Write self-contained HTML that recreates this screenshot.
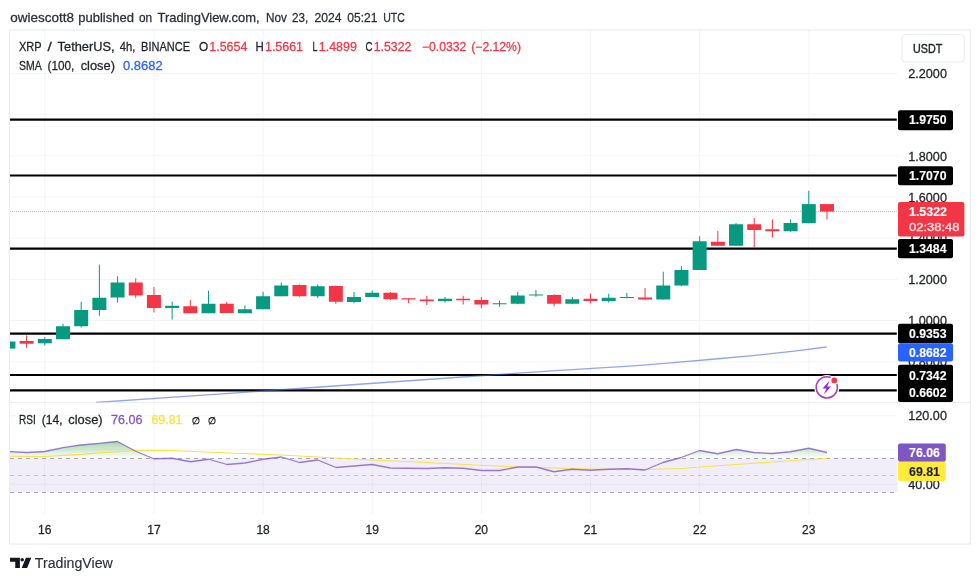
<!DOCTYPE html>
<html><head><meta charset="utf-8"><title>XRP / TetherUS chart</title>
<style>
html,body{margin:0;padding:0;background:#fff;}
body{width:980px;height:583px;overflow:hidden;font-family:"Liberation Sans",sans-serif;}
svg{display:block;position:absolute;left:0;top:0;}
svg text{font-family:"Liberation Sans",sans-serif;paint-order:stroke fill;}
svg{filter:blur(0.4px);}
</style></head><body>
<svg width="980" height="583" viewBox="0 0 980 583">
<defs>
<linearGradient id="obg" gradientUnits="userSpaceOnUse" x1="0" y1="433" x2="0" y2="458.5"><stop offset="0" stop-color="#4caf50" stop-opacity="0.75"/><stop offset="1" stop-color="#4caf50" stop-opacity="0"/></linearGradient>
<clipPath id="cpMain"><rect x="10" y="30" width="887.5" height="372.5"/></clipPath>
<clipPath id="cpOB"><rect x="10" y="403" width="887.5" height="55.5"/></clipPath>
</defs>
<rect x="0" y="0" width="980" height="583" fill="#fff"/>
<g stroke="#f3f4f8" stroke-width="1">
<line x1="44.80" y1="30" x2="44.80" y2="514"/>
<line x1="153.94" y1="30" x2="153.94" y2="514"/>
<line x1="263.08" y1="30" x2="263.08" y2="514"/>
<line x1="372.22" y1="30" x2="372.22" y2="514"/>
<line x1="481.36" y1="30" x2="481.36" y2="514"/>
<line x1="590.50" y1="30" x2="590.50" y2="514"/>
<line x1="699.64" y1="30" x2="699.64" y2="514"/>
<line x1="808.78" y1="30" x2="808.78" y2="514"/>
<line x1="10" y1="73.6" x2="897.5" y2="73.6"/>
<line x1="10" y1="114.7" x2="897.5" y2="114.7"/>
<line x1="10" y1="155.8" x2="897.5" y2="155.8"/>
<line x1="10" y1="197" x2="897.5" y2="197"/>
<line x1="10" y1="238.2" x2="897.5" y2="238.2"/>
<line x1="10" y1="279.4" x2="897.5" y2="279.4"/>
<line x1="10" y1="320.5" x2="897.5" y2="320.5"/>
<line x1="10" y1="361.7" x2="897.5" y2="361.7"/>
<line x1="10" y1="415.8" x2="897.5" y2="415.8"/>
<line x1="10" y1="449.9" x2="897.5" y2="449.9"/>
<line x1="10" y1="484.2" x2="897.5" y2="484.2"/>
</g>
<rect x="9.6" y="30.0" width="960.8" height="514.0" fill="none" stroke="#e9eaee" stroke-width="1"/>
<line x1="9.6" y1="402.5" x2="970.4" y2="402.5" stroke="#eeeff3" stroke-width="1"/>
<rect x="10" y="458.5" width="887.5" height="34" fill="#7e57c2" fill-opacity="0.1"/>
<polygon points="10.00,458.50 10.00,451.60 27.00,452.50 45.00,451.50 63.00,447.70 81.00,445.00 99.00,443.40 117.50,441.50 135.75,451.25 153.75,458.75 172.00,458.25 190.50,461.75 208.75,459.25 227.00,464.50 245.00,463.00 263.00,459.25 281.25,457.00 299.50,462.50 317.75,460.00 336.00,467.50 354.00,466.00 372.25,464.50 390.50,468.00 408.50,468.25 427.00,468.50 445.00,467.75 463.00,468.25 481.50,470.50 499.50,470.50 518.00,467.00 536.00,467.00 554.00,471.75 572.00,469.25 590.25,470.25 608.75,469.25 627.00,468.75 645.00,470.00 663.00,462.50 681.25,457.50 699.50,450.50 717.75,453.75 736.25,449.50 753.75,452.50 772.25,453.50 790.50,451.75 808.75,448.25 827.00,452.50 827.00,458.50" fill="url(#obg)" clip-path="url(#cpOB)"/>
<g stroke="#787b86" stroke-width="1" stroke-dasharray="4 4" stroke-opacity="0.65">
<line x1="10" y1="458.5" x2="897.5" y2="458.5"/>
<line x1="10" y1="475.5" x2="897.5" y2="475.5" stroke-opacity="0.4"/>
<line x1="10" y1="492.5" x2="897.5" y2="492.5"/>
</g>
<polyline points="10.00,456.30 45.00,456.50 63.00,455.40 81.00,454.40 99.00,452.90 117.50,451.80 135.75,450.50 170.00,450.50 230.00,453.00 281.00,455.00 336.00,458.00 372.00,460.00 427.00,462.50 475.00,465.00 518.00,467.00 590.00,469.00 645.00,469.50 681.00,468.50 700.00,467.00 736.00,464.50 772.00,462.00 808.00,459.50 827.00,458.50" fill="none" stroke="#fbe04a" stroke-width="1.1" stroke-linejoin="round"/>
<polyline points="10.00,451.60 27.00,452.50 45.00,451.50 63.00,447.70 81.00,445.00 99.00,443.40 117.50,441.50 135.75,451.25 153.75,458.75 172.00,458.25 190.50,461.75 208.75,459.25 227.00,464.50 245.00,463.00 263.00,459.25 281.25,457.00 299.50,462.50 317.75,460.00 336.00,467.50 354.00,466.00 372.25,464.50 390.50,468.00 408.50,468.25 427.00,468.50 445.00,467.75 463.00,468.25 481.50,470.50 499.50,470.50 518.00,467.00 536.00,467.00 554.00,471.75 572.00,469.25 590.25,470.25 608.75,469.25 627.00,468.75 645.00,470.00 663.00,462.50 681.25,457.50 699.50,450.50 717.75,453.75 736.25,449.50 753.75,452.50 772.25,453.50 790.50,451.75 808.75,448.25 827.00,452.50" fill="none" stroke="#7e57c2" stroke-width="1.3" stroke-opacity="0.78" stroke-linejoin="round"/>
<g clip-path="url(#cpMain)">
<line x1="10" y1="211.5" x2="897.5" y2="211.5" stroke="#f23645" stroke-width="1" stroke-dasharray="1 1" stroke-opacity="0.45"/>
<line x1="10" y1="119.7" x2="896.8" y2="119.7" stroke="#000" stroke-width="2.2"/>
<line x1="10" y1="175.5" x2="896.8" y2="175.5" stroke="#000" stroke-width="2.2"/>
<line x1="10" y1="248.7" x2="896.8" y2="248.7" stroke="#000" stroke-width="2.2"/>
<line x1="10" y1="333.6" x2="896.8" y2="333.6" stroke="#000" stroke-width="2.2"/>
<line x1="10" y1="375" x2="896.8" y2="375" stroke="#000" stroke-width="2.2"/>
<line x1="10" y1="390.4" x2="896.8" y2="390.4" stroke="#000" stroke-width="2.2"/>
<polyline points="96.00,402.50 270.00,390.50 470.00,376.50 510.80,373.70 551.60,370.80 592.40,368.40 633.30,365.90 674.00,362.70 715.00,359.00 755.70,355.30 796.50,350.80 826.50,347.00" fill="none" stroke="#3f66dc" stroke-width="1.3" stroke-opacity="0.58" stroke-linejoin="round"/>
<rect x="7.92" y="341.50" width="1" height="7.10" fill="#089981"/>
<rect x="1.42" y="341.50" width="14" height="7.10" fill="#089981"/>
<rect x="26.11" y="335.40" width="1" height="12.40" fill="#f23645"/>
<rect x="19.61" y="341.00" width="14" height="2.70" fill="#f23645"/>
<rect x="44.30" y="337.20" width="1" height="8.30" fill="#089981"/>
<rect x="37.80" y="339.00" width="14" height="4.30" fill="#089981"/>
<rect x="62.49" y="323.75" width="1" height="15.50" fill="#089981"/>
<rect x="55.99" y="326.25" width="14" height="13.00" fill="#089981"/>
<rect x="80.68" y="301.75" width="1" height="25.75" fill="#089981"/>
<rect x="74.18" y="310.00" width="14" height="16.25" fill="#089981"/>
<rect x="98.87" y="264.50" width="1" height="51.25" fill="#089981"/>
<rect x="92.37" y="297.75" width="14" height="12.25" fill="#089981"/>
<rect x="117.06" y="276.25" width="1" height="26.25" fill="#089981"/>
<rect x="110.56" y="282.50" width="14" height="15.00" fill="#089981"/>
<rect x="135.25" y="278.25" width="1" height="20.00" fill="#f23645"/>
<rect x="128.75" y="282.50" width="14" height="13.00" fill="#f23645"/>
<rect x="153.44" y="287.00" width="1" height="25.50" fill="#f23645"/>
<rect x="146.94" y="295.00" width="14" height="13.00" fill="#f23645"/>
<rect x="171.63" y="301.50" width="1" height="18.00" fill="#089981"/>
<rect x="165.13" y="305.75" width="14" height="2.25" fill="#089981"/>
<rect x="189.82" y="300.00" width="1" height="13.25" fill="#f23645"/>
<rect x="183.32" y="306.25" width="14" height="7.00" fill="#f23645"/>
<rect x="208.01" y="290.75" width="1" height="22.50" fill="#089981"/>
<rect x="201.51" y="303.75" width="14" height="9.50" fill="#089981"/>
<rect x="226.20" y="302.00" width="1" height="11.00" fill="#f23645"/>
<rect x="219.70" y="303.75" width="14" height="9.25" fill="#f23645"/>
<rect x="244.39" y="305.50" width="1" height="7.75" fill="#089981"/>
<rect x="237.89" y="309.25" width="14" height="4.00" fill="#089981"/>
<rect x="262.58" y="291.75" width="1" height="17.50" fill="#089981"/>
<rect x="256.08" y="296.25" width="14" height="13.00" fill="#089981"/>
<rect x="280.77" y="282.50" width="1" height="13.75" fill="#089981"/>
<rect x="274.27" y="285.50" width="14" height="10.75" fill="#089981"/>
<rect x="298.96" y="284.50" width="1" height="12.25" fill="#f23645"/>
<rect x="292.46" y="285.00" width="14" height="11.25" fill="#f23645"/>
<rect x="317.15" y="284.50" width="1" height="13.50" fill="#089981"/>
<rect x="310.65" y="286.25" width="14" height="10.00" fill="#089981"/>
<rect x="335.34" y="285.50" width="1" height="18.25" fill="#f23645"/>
<rect x="328.84" y="286.00" width="14" height="15.75" fill="#f23645"/>
<rect x="353.53" y="292.00" width="1" height="11.25" fill="#089981"/>
<rect x="347.03" y="297.00" width="14" height="5.00" fill="#089981"/>
<rect x="371.72" y="290.50" width="1" height="6.50" fill="#089981"/>
<rect x="365.22" y="292.75" width="14" height="4.25" fill="#089981"/>
<rect x="389.91" y="292.00" width="1" height="8.00" fill="#f23645"/>
<rect x="383.41" y="292.75" width="14" height="6.50" fill="#f23645"/>
<rect x="408.10" y="298.25" width="1" height="4.75" fill="#f23645"/>
<rect x="401.60" y="298.25" width="14" height="1.25" fill="#f23645"/>
<rect x="426.29" y="295.75" width="1" height="9.25" fill="#f23645"/>
<rect x="419.79" y="299.50" width="14" height="1.75" fill="#f23645"/>
<rect x="444.48" y="297.00" width="1" height="5.50" fill="#089981"/>
<rect x="437.98" y="298.75" width="14" height="2.25" fill="#089981"/>
<rect x="462.67" y="295.75" width="1" height="8.75" fill="#f23645"/>
<rect x="456.17" y="298.75" width="14" height="1.50" fill="#f23645"/>
<rect x="480.86" y="297.00" width="1" height="11.25" fill="#f23645"/>
<rect x="474.36" y="300.00" width="14" height="4.50" fill="#f23645"/>
<rect x="499.05" y="300.50" width="1" height="6.25" fill="#089981"/>
<rect x="492.55" y="303.25" width="14" height="1.00" fill="#089981"/>
<rect x="517.24" y="292.00" width="1" height="12.25" fill="#089981"/>
<rect x="510.74" y="295.50" width="14" height="8.25" fill="#089981"/>
<rect x="535.43" y="290.00" width="1" height="6.75" fill="#089981"/>
<rect x="528.93" y="294.50" width="14" height="1.00" fill="#089981"/>
<rect x="553.62" y="294.25" width="1" height="12.00" fill="#f23645"/>
<rect x="547.12" y="295.00" width="14" height="8.75" fill="#f23645"/>
<rect x="571.81" y="297.00" width="1" height="7.25" fill="#089981"/>
<rect x="565.31" y="299.25" width="14" height="4.50" fill="#089981"/>
<rect x="590.00" y="293.75" width="1" height="9.50" fill="#f23645"/>
<rect x="583.50" y="298.75" width="14" height="2.25" fill="#f23645"/>
<rect x="608.19" y="293.75" width="1" height="8.75" fill="#089981"/>
<rect x="601.69" y="297.75" width="14" height="3.25" fill="#089981"/>
<rect x="626.38" y="293.00" width="1" height="5.50" fill="#089981"/>
<rect x="619.88" y="297.00" width="14" height="1.00" fill="#089981"/>
<rect x="644.57" y="288.00" width="1" height="11.50" fill="#f23645"/>
<rect x="638.07" y="297.50" width="14" height="2.00" fill="#f23645"/>
<rect x="662.76" y="271.75" width="1" height="27.75" fill="#089981"/>
<rect x="656.26" y="285.50" width="14" height="14.00" fill="#089981"/>
<rect x="680.95" y="266.25" width="1" height="20.00" fill="#089981"/>
<rect x="674.45" y="270.00" width="14" height="15.50" fill="#089981"/>
<rect x="699.14" y="236.25" width="1" height="33.75" fill="#089981"/>
<rect x="692.64" y="241.25" width="14" height="28.75" fill="#089981"/>
<rect x="717.33" y="230.75" width="1" height="15.00" fill="#f23645"/>
<rect x="710.83" y="241.75" width="14" height="4.00" fill="#f23645"/>
<rect x="735.52" y="223.00" width="1" height="22.75" fill="#089981"/>
<rect x="729.02" y="224.25" width="14" height="21.50" fill="#089981"/>
<rect x="753.71" y="218.00" width="1" height="30.00" fill="#f23645"/>
<rect x="747.21" y="224.25" width="14" height="5.75" fill="#f23645"/>
<rect x="771.90" y="219.50" width="1" height="18.00" fill="#f23645"/>
<rect x="765.40" y="229.25" width="14" height="2.00" fill="#f23645"/>
<rect x="790.09" y="219.50" width="1" height="12.25" fill="#089981"/>
<rect x="783.59" y="223.00" width="14" height="8.25" fill="#089981"/>
<rect x="808.28" y="190.75" width="1" height="32.45" fill="#089981"/>
<rect x="801.78" y="204.10" width="14" height="19.10" fill="#089981"/>
<rect x="826.47" y="204.10" width="1" height="15.40" fill="#f23645"/>
<rect x="819.97" y="204.10" width="14" height="7.50" fill="#f23645"/>
</g>
<g>
<circle cx="826.8" cy="387.4" r="12.5" fill="#fff"/>
<circle cx="826.8" cy="387.4" r="10.6" fill="#fff" stroke="#ab47bc" stroke-width="1.6"/>
<path d="M829.6 380.6 L822.6 388.6 L826.4 388.6 L823.8 394.6 L831 386.4 L827.2 386.4 Z" fill="#a020f0"/>
<circle cx="834.3" cy="380.4" r="4.4" fill="#fff"/>
<circle cx="834.3" cy="380.4" r="2.9" fill="#f23645"/>
</g>
<text x="908.3" y="78.4" font-size="12" fill="#1e222c" stroke="#1e222c" stroke-width="0.27" font-weight="normal" text-anchor="start" textLength="38.6" lengthAdjust="spacingAndGlyphs">2.2000</text>
<text x="908.3" y="161.0" font-size="12" fill="#1e222c" stroke="#1e222c" stroke-width="0.27" font-weight="normal" text-anchor="start" textLength="38.6" lengthAdjust="spacingAndGlyphs">1.8000</text>
<text x="908.3" y="201.70000000000002" font-size="12" fill="#1e222c" stroke="#1e222c" stroke-width="0.27" font-weight="normal" text-anchor="start" textLength="38.6" lengthAdjust="spacingAndGlyphs">1.6000</text>
<text x="908.3" y="242.4" font-size="12" fill="#1e222c" stroke="#1e222c" stroke-width="0.27" font-weight="normal" text-anchor="start" textLength="38.6" lengthAdjust="spacingAndGlyphs">1.4000</text>
<text x="908.3" y="284.2" font-size="12" fill="#1e222c" stroke="#1e222c" stroke-width="0.27" font-weight="normal" text-anchor="start" textLength="38.6" lengthAdjust="spacingAndGlyphs">1.2000</text>
<text x="908.3" y="324.9" font-size="12" fill="#1e222c" stroke="#1e222c" stroke-width="0.27" font-weight="normal" text-anchor="start" textLength="38.6" lengthAdjust="spacingAndGlyphs">1.0000</text>
<text x="908.3" y="365.9" font-size="12" fill="#1e222c" stroke="#1e222c" stroke-width="0.27" font-weight="normal" text-anchor="start" textLength="38.6" lengthAdjust="spacingAndGlyphs">0.8000</text>
<text x="908.3" y="420.4" font-size="12" fill="#1e222c" stroke="#1e222c" stroke-width="0.27" font-weight="normal" text-anchor="start" textLength="38.6" lengthAdjust="spacingAndGlyphs">120.00</text>
<text x="908.3" y="488.9" font-size="12" fill="#1e222c" stroke="#1e222c" stroke-width="0.27" font-weight="normal" text-anchor="start" textLength="31.5" lengthAdjust="spacingAndGlyphs">40.00</text>
<rect x="898" y="110.2" width="55" height="20.10000000000001" rx="2" ry="2" fill="#000"/>
<text x="909.0" y="124.4" font-size="12" fill="#fff" stroke="#fff" stroke-width="0.12" font-weight="bold" text-anchor="start" textLength="37.5" lengthAdjust="spacingAndGlyphs">1.9750</text>
<rect x="898" y="166.3" width="55" height="19.0" rx="2" ry="2" fill="#000"/>
<text x="909.0" y="180.2" font-size="12" fill="#fff" stroke="#fff" stroke-width="0.12" font-weight="bold" text-anchor="start" textLength="37.5" lengthAdjust="spacingAndGlyphs">1.7070</text>
<rect x="898" y="239" width="55" height="19.30000000000001" rx="2" ry="2" fill="#000"/>
<text x="909.0" y="253" font-size="12" fill="#fff" stroke="#fff" stroke-width="0.12" font-weight="bold" text-anchor="start" textLength="37.5" lengthAdjust="spacingAndGlyphs">1.3484</text>
<rect x="898" y="202" width="66.39999999999998" height="34.599999999999994" rx="2" ry="2" fill="#f23645"/>
<text x="909.0" y="216.2" font-size="12" fill="#fff" stroke="#fff" stroke-width="0.12" font-weight="bold" text-anchor="start" textLength="38" lengthAdjust="spacingAndGlyphs">1.5322</text>
<text x="909.0" y="230.9" font-size="11" fill="#fff" stroke="#fff" stroke-width="0.4" font-weight="normal" text-anchor="start" textLength="50.5" lengthAdjust="spacingAndGlyphs" opacity="0.82">02:38:48</text>
<rect x="898" y="323.7" width="55" height="19.600000000000023" rx="2" ry="2" fill="#000"/>
<text x="909.0" y="337.7" font-size="12" fill="#fff" stroke="#fff" stroke-width="0.12" font-weight="bold" text-anchor="start" textLength="37.5" lengthAdjust="spacingAndGlyphs">0.9353</text>
<rect x="898" y="364.8" width="55" height="37.19999999999999" rx="2" ry="2" fill="#000"/>
<text x="909.0" y="379.5" font-size="12" fill="#fff" stroke="#fff" stroke-width="0.12" font-weight="bold" text-anchor="start" textLength="37.5" lengthAdjust="spacingAndGlyphs">0.7342</text>
<text x="909.0" y="397.2" font-size="12" fill="#fff" stroke="#fff" stroke-width="0.12" font-weight="bold" text-anchor="start" textLength="37.5" lengthAdjust="spacingAndGlyphs">0.6602</text>
<rect x="898" y="343.2" width="55" height="18.19999999999999" rx="2" ry="2" fill="#2962ff"/>
<text x="909.0" y="356.7" font-size="12" fill="#fff" stroke="#fff" stroke-width="0.12" font-weight="bold" text-anchor="start" textLength="37.5" lengthAdjust="spacingAndGlyphs">0.8682</text>
<rect x="898" y="443.4" width="47.799999999999955" height="18.400000000000034" rx="2" ry="2" fill="#7e57c2"/>
<text x="909.0" y="457" font-size="12" fill="#fff" stroke="#fff" stroke-width="0.12" font-weight="bold" text-anchor="start" textLength="31" lengthAdjust="spacingAndGlyphs">76.06</text>
<rect x="898" y="461.7" width="47.799999999999955" height="19.30000000000001" rx="2" ry="2" fill="#ffeb3b"/>
<text x="909.0" y="475.5" font-size="12" fill="#1e222c" stroke="#1e222c" stroke-width="0.12" font-weight="bold" text-anchor="start" textLength="31" lengthAdjust="spacingAndGlyphs">69.81</text>
<rect x="901.9" y="34.4" width="62.5" height="27.7" rx="4" ry="4" fill="#fff" stroke="#e9eaee" stroke-width="1"/>
<text x="913" y="52.6" font-size="12" fill="#1e222c" stroke="#1e222c" stroke-width="0.4" font-weight="normal" text-anchor="start" textLength="29.2" lengthAdjust="spacingAndGlyphs">USDT</text>
<text x="44.80" y="533.8" font-size="12" fill="#1e222c" stroke="#1e222c" stroke-width="0.27" font-weight="normal" text-anchor="middle">16</text>
<text x="153.94" y="533.8" font-size="12" fill="#1e222c" stroke="#1e222c" stroke-width="0.27" font-weight="normal" text-anchor="middle">17</text>
<text x="263.08" y="533.8" font-size="12" fill="#1e222c" stroke="#1e222c" stroke-width="0.27" font-weight="normal" text-anchor="middle">18</text>
<text x="372.22" y="533.8" font-size="12" fill="#1e222c" stroke="#1e222c" stroke-width="0.27" font-weight="normal" text-anchor="middle">19</text>
<text x="481.36" y="533.8" font-size="12" fill="#1e222c" stroke="#1e222c" stroke-width="0.27" font-weight="normal" text-anchor="middle">20</text>
<text x="590.50" y="533.8" font-size="12" fill="#1e222c" stroke="#1e222c" stroke-width="0.27" font-weight="normal" text-anchor="middle">21</text>
<text x="699.64" y="533.8" font-size="12" fill="#1e222c" stroke="#1e222c" stroke-width="0.27" font-weight="normal" text-anchor="middle">22</text>
<text x="808.78" y="533.8" font-size="12" fill="#1e222c" stroke="#1e222c" stroke-width="0.27" font-weight="normal" text-anchor="middle">23</text>
<text x="19" y="51.3" font-size="12" fill="#1e222c" stroke="#1e222c" stroke-width="0.27" font-weight="normal" text-anchor="start" textLength="22.7" lengthAdjust="spacingAndGlyphs">XRP</text>
<text x="47.5" y="51.3" font-size="12" fill="#1e222c" stroke="#1e222c" stroke-width="0.27" font-weight="normal" text-anchor="start" textLength="4.3" lengthAdjust="spacingAndGlyphs">/</text>
<text x="57.6" y="51.3" font-size="12" fill="#1e222c" stroke="#1e222c" stroke-width="0.27" font-weight="normal" text-anchor="start" textLength="57.0" lengthAdjust="spacingAndGlyphs">TetherUS,</text>
<text x="119.7" y="51.3" font-size="12" fill="#1e222c" stroke="#1e222c" stroke-width="0.27" font-weight="normal" text-anchor="start" textLength="15.6" lengthAdjust="spacingAndGlyphs">4h,</text>
<text x="141.1" y="51.3" font-size="12" fill="#1e222c" stroke="#1e222c" stroke-width="0.27" font-weight="normal" text-anchor="start" textLength="48.9" lengthAdjust="spacingAndGlyphs">BINANCE</text>
<text x="199" y="51.3" font-size="12" fill="#1e222c" stroke="#1e222c" stroke-width="0.27" font-weight="normal" text-anchor="start" textLength="9.2" lengthAdjust="spacingAndGlyphs">O</text>
<text x="209.3" y="51.3" font-size="12" fill="#f23645" stroke="#f23645" stroke-width="0.27" font-weight="normal" text-anchor="start" textLength="38.0" lengthAdjust="spacingAndGlyphs">1.5654</text>
<text x="255.5" y="51.3" font-size="12" fill="#1e222c" stroke="#1e222c" stroke-width="0.27" font-weight="normal" text-anchor="start" textLength="8.3" lengthAdjust="spacingAndGlyphs">H</text>
<text x="265" y="51.3" font-size="12" fill="#f23645" stroke="#f23645" stroke-width="0.27" font-weight="normal" text-anchor="start" textLength="38" lengthAdjust="spacingAndGlyphs">1.5661</text>
<text x="312.5" y="51.3" font-size="12" fill="#1e222c" stroke="#1e222c" stroke-width="0.27" font-weight="normal" text-anchor="start" textLength="5.0" lengthAdjust="spacingAndGlyphs">L</text>
<text x="318.8" y="51.3" font-size="12" fill="#f23645" stroke="#f23645" stroke-width="0.27" font-weight="normal" text-anchor="start" textLength="38.0" lengthAdjust="spacingAndGlyphs">1.4899</text>
<text x="365.5" y="51.3" font-size="12" fill="#1e222c" stroke="#1e222c" stroke-width="0.27" font-weight="normal" text-anchor="start" textLength="7.0" lengthAdjust="spacingAndGlyphs">C</text>
<text x="373.8" y="51.3" font-size="12" fill="#f23645" stroke="#f23645" stroke-width="0.27" font-weight="normal" text-anchor="start" textLength="37.5" lengthAdjust="spacingAndGlyphs">1.5322</text>
<text x="422" y="51.3" font-size="12" fill="#f23645" stroke="#f23645" stroke-width="0.27" font-weight="normal" text-anchor="start" textLength="44.3" lengthAdjust="spacingAndGlyphs">−0.0332</text>
<text x="471.3" y="51.3" font-size="12" fill="#f23645" stroke="#f23645" stroke-width="0.27" font-weight="normal" text-anchor="start" textLength="49.7" lengthAdjust="spacingAndGlyphs">(−2.12%)</text>
<text x="19" y="70.4" font-size="12" fill="#1e222c" stroke="#1e222c" stroke-width="0.27" font-weight="normal" text-anchor="start" textLength="22.7" lengthAdjust="spacingAndGlyphs">SMA</text>
<text x="47.5" y="70.4" font-size="12" fill="#1e222c" stroke="#1e222c" stroke-width="0.27" font-weight="normal" text-anchor="start" textLength="26.8" lengthAdjust="spacingAndGlyphs">(100,</text>
<text x="80.7" y="70.4" font-size="12" fill="#1e222c" stroke="#1e222c" stroke-width="0.27" font-weight="normal" text-anchor="start" textLength="34.3" lengthAdjust="spacingAndGlyphs">close)</text>
<text x="123.1" y="70.4" font-size="12" fill="#2962ff" stroke="#2962ff" stroke-width="0.27" font-weight="normal" text-anchor="start" textLength="39.5" lengthAdjust="spacingAndGlyphs">0.8682</text>
<text x="19" y="424" font-size="12" fill="#1e222c" stroke="#1e222c" stroke-width="0.27" font-weight="normal" text-anchor="start" textLength="16.7" lengthAdjust="spacingAndGlyphs">RSI</text>
<text x="41.7" y="424" font-size="12" fill="#1e222c" stroke="#1e222c" stroke-width="0.27" font-weight="normal" text-anchor="start" textLength="20.8" lengthAdjust="spacingAndGlyphs">(14,</text>
<text x="68.3" y="424" font-size="12" fill="#1e222c" stroke="#1e222c" stroke-width="0.27" font-weight="normal" text-anchor="start" textLength="34.3" lengthAdjust="spacingAndGlyphs">close)</text>
<text x="111.1" y="424" font-size="12" fill="#7e57c2" stroke="#7e57c2" stroke-width="0.27" font-weight="normal" text-anchor="start" textLength="31.3" lengthAdjust="spacingAndGlyphs">76.06</text>
<text x="151.4" y="424" font-size="12" fill="#fbe244" stroke="#fbe244" stroke-width="0.27" font-weight="normal" text-anchor="start" textLength="31.1" lengthAdjust="spacingAndGlyphs">69.81</text>
<circle cx="195.9" cy="420.7" r="3.1" fill="none" stroke="#1e222c" stroke-width="1.05"/>
<line x1="193.3" y1="424.6" x2="198.5" y2="416.8" stroke="#1e222c" stroke-width="0.95"/>
<circle cx="212.0" cy="420.7" r="3.1" fill="none" stroke="#1e222c" stroke-width="1.05"/>
<line x1="209.4" y1="424.6" x2="214.6" y2="416.8" stroke="#1e222c" stroke-width="0.95"/>
<text x="10.3" y="21.7" font-size="13" fill="#2a2e39" stroke="#2a2e39" stroke-width="0.27" font-weight="normal" text-anchor="start" textLength="63.6" lengthAdjust="spacingAndGlyphs">owiescott8</text>
<text x="78.2" y="21.7" font-size="13" fill="#2a2e39" stroke="#2a2e39" stroke-width="0.27" font-weight="normal" text-anchor="start" textLength="55.7" lengthAdjust="spacingAndGlyphs">published</text>
<text x="138.9" y="21.7" font-size="13" fill="#2a2e39" stroke="#2a2e39" stroke-width="0.27" font-weight="normal" text-anchor="start" textLength="13.2" lengthAdjust="spacingAndGlyphs">on</text>
<text x="157.5" y="21.7" font-size="13" fill="#2a2e39" stroke="#2a2e39" stroke-width="0.27" font-weight="normal" text-anchor="start" textLength="102.1" lengthAdjust="spacingAndGlyphs">TradingView.com,</text>
<text x="266" y="21.7" font-size="13" fill="#2a2e39" stroke="#2a2e39" stroke-width="0.27" font-weight="normal" text-anchor="start" textLength="20.8" lengthAdjust="spacingAndGlyphs">Nov</text>
<text x="292.1" y="21.7" font-size="13" fill="#2a2e39" stroke="#2a2e39" stroke-width="0.27" font-weight="normal" text-anchor="start" textLength="16.1" lengthAdjust="spacingAndGlyphs">23,</text>
<text x="314.6" y="21.7" font-size="13" fill="#2a2e39" stroke="#2a2e39" stroke-width="0.27" font-weight="normal" text-anchor="start" textLength="27.0" lengthAdjust="spacingAndGlyphs">2024</text>
<text x="347.3" y="21.7" font-size="13" fill="#2a2e39" stroke="#2a2e39" stroke-width="0.27" font-weight="normal" text-anchor="start" textLength="30.1" lengthAdjust="spacingAndGlyphs">05:21</text>
<text x="383.2" y="21.7" font-size="13" fill="#2a2e39" stroke="#2a2e39" stroke-width="0.27" font-weight="normal" text-anchor="start" textLength="21.6" lengthAdjust="spacingAndGlyphs">UTC</text>
<g fill="#131722">
<path d="M10 557.8 H19.9 V567.9 H15.25 V561.7 H10 Z"/>
<circle cx="22.2" cy="559.7" r="1.75"/>
<path d="M25.9 557.8 H31.3 L27.1 567.9 H21.7 Z"/>
</g>
<text x="34.8" y="568.1" font-size="14" fill="#2a2e39" stroke="#2a2e39" stroke-width="0.12" font-weight="normal" text-anchor="start" textLength="78" lengthAdjust="spacingAndGlyphs">TradingView</text>
</svg>
</body></html>
